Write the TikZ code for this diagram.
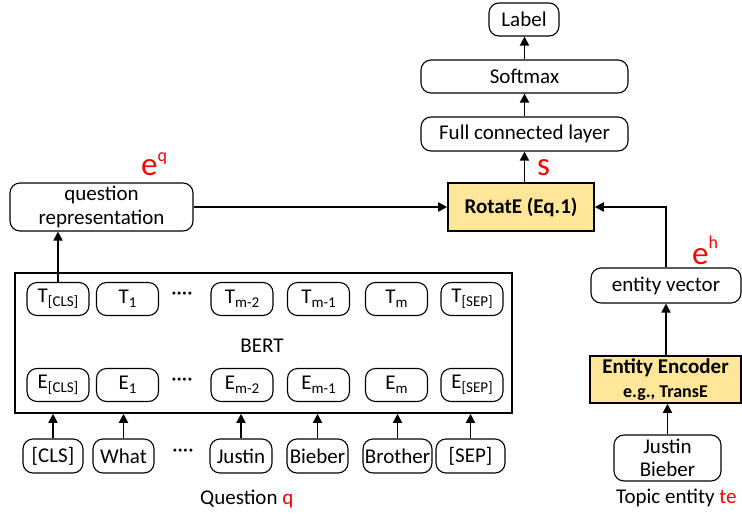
\documentclass[tikz,border=0pt]{standalone}
\usepackage{fontspec}
\setmainfont{Carlito}
\usetikzlibrary{arrows.meta}
\definecolor{gold}{RGB}{255,230,153}
\newcommand\mysub[1]{\raisebox{-0.35ex}{\fontsize{15}{15}\selectfont #1}}
\begin{document}
\begin{tikzpicture}[x=1pt,y=-1pt,
 every node/.style={font=\fontsize{21}{23.5}\selectfont},
 rbox/.style={draw, rounded corners=10pt, line width=1.1pt, align=center, inner sep=0pt},
 ybox/.style={draw, fill=gold, line width=1.6pt, align=center, inner sep=0pt, font=\bfseries\fontsize{21}{24}\selectfont},
 tok/.style={rbox, minimum width=62pt, minimum height=33pt},
 wtok/.style={rbox, minimum height=34pt},
 arr/.style={line width=1.8pt, -{Triangle[length=9pt,width=9pt]}},
 redlbl/.style={text=red, inner sep=0pt, anchor=base west, font=\fontsize{33}{33}\selectfont}
]
\useasboundingbox (0,0) rectangle (742,517);

% top stack
\node[rbox, minimum width=70pt, minimum height=33pt] (label) at (524,19.5) {Label};
\node[rbox, minimum width=207pt, minimum height=33pt] (soft) at (524.5,76.5) {Softmax};
\node[rbox, minimum width=207pt, minimum height=34pt] (fc) at (524.5,134) {Full connected layer};
\node[ybox, minimum width=146pt, minimum height=48pt] (rot) at (521,207) {RotatE (Eq.1)};

% question representation
\node[rbox, minimum width=183pt, minimum height=48pt] (qrep) at (101.5,207) {question\\representation};

% BERT block
\node[draw, line width=1.6pt, minimum width=497pt, minimum height=140pt, inner sep=0pt] (bert) at (263.5,343) {};
\node (berttxt) at (262,346) {BERT};

\node[tok] (tcls) at (58,299) {T\mysub{[CLS]}};
\node[tok] (t1) at (127.5,299) {T\mysub{1}};
\node (tdots) at (182,296) {····};
\node[tok] (tm2) at (242,299) {T\mysub{m-2}};
\node[tok] (tm1) at (318.5,299) {T\mysub{m-1}};
\node[tok] (tm) at (396.5,299) {T\mysub{m}};
\node[tok] (tsep) at (472,299) {T\mysub{[SEP]}};

\node[tok] (ecls) at (58,385) {E\mysub{[CLS]}};
\node[tok] (e1) at (127.5,385) {E\mysub{1}};
\node (edots) at (182,382) {····};
\node[tok] (em2) at (242,385) {E\mysub{m-2}};
\node[tok] (em1) at (318.5,385) {E\mysub{m-1}};
\node[tok] (em) at (396.5,385) {E\mysub{m}};
\node[tok] (esep) at (472,385) {E\mysub{[SEP]}};

% input words
\node[wtok, minimum width=60pt] (wcls) at (53,456) {[CLS]};
\node[wtok, minimum width=61pt] (wwhat) at (123.5,456) {What};
\node (wdots) at (183,453) {····};
\node[wtok, minimum width=62pt] (wjustin) at (241,456) {Justin};
\node[wtok, minimum width=61pt] (wbieber) at (317.5,456) {Bieber};
\node[wtok, minimum width=69pt] (wbrother) at (397.5,456) {Brother};
\node[wtok, minimum width=69pt] (wsep) at (470.5,456) {[SEP]};

\node[anchor=base west, inner sep=0pt] (qlbl) at (200,504) {Question \textcolor{red}{q}};

% right side
\node[rbox, minimum width=150pt, minimum height=35pt] (ev) at (666,285.5) {entity vector};
\node[ybox, minimum width=151pt, minimum height=47pt] (enc) at (665.5,379.5) {Entity Encoder\\{\fontsize{18}{20}\selectfont e.g., TransE}};
\node[rbox, minimum width=107pt, minimum height=46pt] (jb) at (667.5,458) {Justin\\Bieber};
\node[anchor=base west, inner sep=0pt] (telbl) at (616,503) {Topic entity \textcolor{red}{te}};

% red labels
\node[redlbl] (eq) at (141,175) {e\raisebox{14pt}{\fontsize{18}{18}\selectfont q}};
\node[redlbl] (eh) at (692,264) {e\raisebox{16pt}{\fontsize{18}{18}\selectfont h}};
\node[redlbl] (slbl) at (537,175) {s};

% connectors
\draw[arr] (soft.north) -- (soft.north |- label.south);
\draw[arr] (fc.north) -- (soft.south);
\draw[arr] (fc.south |- rot.north) -- (fc.south);
\draw[arr] (qrep.east) -- (rot.west);
\draw[arr] (ev.north) |- (rot.east);
\draw[arr] (ev.south |- enc.north) -- (ev.south);
\draw[arr] (jb.north) -- (jb.north |- enc.south);
\draw[arr] (tcls.north) -- (tcls.north |- qrep.south);
\foreach \w in {wcls,wwhat,wjustin,wbieber,wbrother,wsep}
  \draw[arr] (\w.north) -- (\w.north |- bert.south);
\end{tikzpicture}
\end{document}
